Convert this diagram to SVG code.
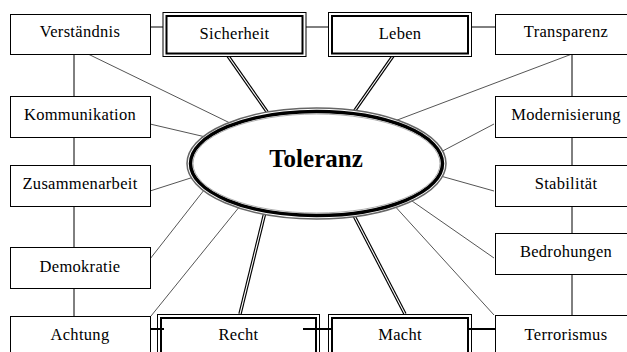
<svg xmlns="http://www.w3.org/2000/svg" width="627" height="352" viewBox="0 0 627 352">
<style>
.box{fill:#fff;stroke:#000;stroke-width:1}
.dout{fill:#fff;stroke:#000;stroke-width:1}
.din{fill:none;stroke:#000;stroke-width:2}
.c{stroke:#555;stroke-width:1;fill:none}
.v{stroke:#000;stroke-width:1;fill:none}
.dbl{stroke:#000;stroke-width:3.4;fill:none}
.dblw{stroke:#fff;stroke-width:1.1;fill:none}
</style>
<rect width="627" height="352" fill="#fff"/>
<g id="connectors">
<line class="v" x1="74" y1="54" x2="74" y2="96"/>
<line class="v" x1="74" y1="137" x2="74" y2="165"/>
<line class="v" x1="74" y1="206" x2="74" y2="247"/>
<line class="v" x1="74" y1="288" x2="74" y2="316"/>
<line class="v" x1="572" y1="54" x2="572" y2="96"/>
<line class="v" x1="572" y1="137" x2="572" y2="165"/>
<line class="v" x1="572" y1="206" x2="572" y2="233"/>
<line class="v" x1="572" y1="274" x2="572" y2="315"/>
<line class="v" x1="150" y1="27" x2="163" y2="27"/>
<line class="v" x1="306" y1="27" x2="328" y2="27"/>
<line class="v" x1="472" y1="27" x2="495" y2="27"/>
<line class="c" x1="88" y1="54" x2="230" y2="123"/>
<line class="c" x1="150" y1="124" x2="210" y2="138"/>
<line class="c" x1="150" y1="191" x2="200" y2="175"/>
<line class="c" x1="150" y1="259" x2="208" y2="185"/>
<line class="c" x1="151" y1="316" x2="240" y2="206"/>
<line class="c" x1="494" y1="315" x2="392" y2="203"/>
<line class="c" x1="494" y1="258" x2="412" y2="201"/>
<line class="c" x1="494" y1="191" x2="437" y2="175"/>
<line class="c" x1="494" y1="124" x2="435" y2="155"/>
<line class="c" x1="572" y1="54" x2="392" y2="122"/>
<line class="dbl" x1="228" y1="56" x2="270" y2="116"/>
<line class="dblw" x1="228" y1="56" x2="270" y2="116"/>
<line class="dbl" x1="393" y1="56" x2="351" y2="116"/>
<line class="dblw" x1="393" y1="56" x2="351" y2="116"/>
<line class="dbl" x1="240" y1="314" x2="266" y2="208"/>
<line class="dblw" x1="240" y1="314" x2="266" y2="208"/>
<line class="dbl" x1="405" y1="314" x2="350" y2="208"/>
<line class="dblw" x1="405" y1="314" x2="350" y2="208"/>
</g>
<g id="toleranz">
<ellipse cx="316.5" cy="163.5" rx="129.5" ry="55.5" fill="#fff" stroke="#666" stroke-width="1.5"/>
<ellipse cx="316.5" cy="163.5" rx="126" ry="52" fill="#fff" stroke="#000" stroke-width="3.5"/>
<ellipse cx="316.5" cy="163.5" rx="123.5" ry="49.5" fill="none" stroke="#999" stroke-width="0.8"/>
<text x="316" y="167" font-family="'Liberation Serif', serif" font-size="25" font-weight="bold" text-anchor="middle">Toleranz</text>
</g>
<g font-family="'Liberation Serif', 'Times New Roman', serif" font-size="16.5" letter-spacing="0.3" text-anchor="middle" fill="#000">
<g id="verstaendnis"><rect class="box" x="10.5" y="14.5" width="140" height="40"/><text x="80" y="37">Verständnis</text></g>
<g id="kommunikation"><rect class="box" x="10.5" y="96.5" width="140" height="41"/><text x="80" y="120">Kommunikation</text></g>
<g id="zusammenarbeit"><rect class="box" x="10.5" y="165.5" width="140" height="41"/><text x="80" y="189">Zusammenarbeit</text></g>
<g id="demokratie"><rect class="box" x="10.5" y="247.5" width="140" height="41"/><text x="80" y="272">Demokratie</text></g>
<g id="achtung"><rect class="box" x="10.5" y="316.5" width="140" height="45"/><text x="80" y="340">Achtung</text></g>
<g id="transparenz"><rect class="box" x="495.5" y="14.5" width="140" height="40"/><text x="566" y="37">Transparenz</text></g>
<g id="modernisierung"><rect class="box" x="495.5" y="96.5" width="140" height="41"/><text x="566" y="120">Modernisierung</text></g>
<g id="stabilitaet"><rect class="box" x="495.5" y="165.5" width="140" height="41"/><text x="566" y="189">Stabilität</text></g>
<g id="bedrohungen"><rect class="box" x="495.5" y="233.5" width="140" height="41"/><text x="566" y="257">Bedrohungen</text></g>
<g id="terrorismus"><rect class="box" x="495.5" y="315.5" width="140" height="45"/><text x="566" y="340">Terrorismus</text></g>
<g id="sicherheit"><rect class="dout" x="163" y="12.5" width="143" height="44"/><rect class="din" x="166.5" y="16" width="136" height="37.5"/><text x="234.5" y="39">Sicherheit</text></g>
<g id="leben"><rect class="dout" x="328.5" y="12.5" width="143" height="44"/><rect class="din" x="332" y="16" width="136" height="37.5"/><text x="400" y="39">Leben</text></g>
<g id="recht"><rect class="dout" x="157.5" y="314.5" width="162" height="45"/><rect class="din" x="161" y="318" width="155" height="45"/><text x="238.5" y="340">Recht</text></g>
<g id="macht"><rect class="dout" x="328.5" y="314.5" width="143" height="45"/><rect class="din" x="332" y="318" width="136" height="45"/><text x="400" y="340">Macht</text></g>
</g>
<g id="bottom-links">
<line x1="150" y1="329" x2="164" y2="329" stroke="#000" stroke-width="2"/>
<line x1="303" y1="329" x2="332" y2="329" stroke="#000" stroke-width="2"/>
<line x1="468" y1="329" x2="495" y2="329" stroke="#000" stroke-width="2"/>
</g>
</svg>
